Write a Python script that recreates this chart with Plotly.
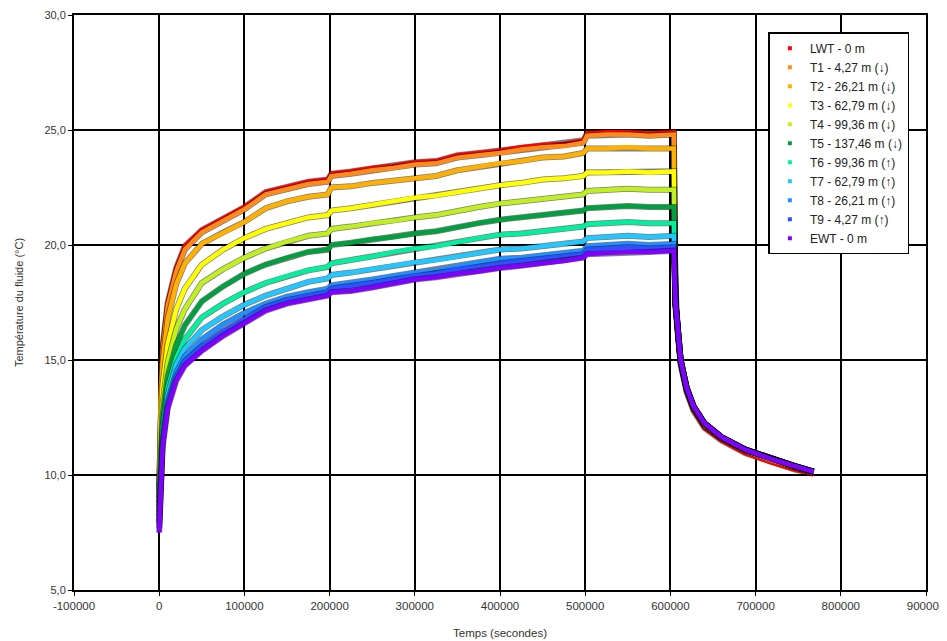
import plotly.graph_objects as go

# Time axis (seconds): heating phase then recovery phase
time_s = [0, 1500, 4000, 10000, 20000, 30000, 50000, 75000, 100000, 125000,
          150000, 175000, 198000, 202000, 225000, 250000, 275000, 300000, 325000, 350000,
          375000, 400000, 425000, 450000, 475000, 498000, 502000, 525000, 550000, 575000,
          604000,
          606000, 609000, 612000, 619000, 627000, 640000, 660000, 688000, 718000, 745000, 768000]

LWT = [9.5, 13.5, 15.6, 17.5, 19.0, 19.95, 20.65, 21.15, 21.65, 22.3,
       22.55, 22.75, 22.85, 23.1, 23.2, 23.35, 23.45, 23.6, 23.65, 23.9,
       24.0, 24.1, 24.25, 24.35, 24.4, 24.55, 24.85, 24.9, 24.9, 24.85,
       24.9,
       17.3, 15.8, 14.8, 13.6, 12.8, 12.05, 11.5, 10.95, 10.55, 10.25, 10.05]
T1 = [9.3, 13.2, 15.4, 17.35, 18.85, 19.8, 20.55, 21.05, 21.55, 22.2,
      22.45, 22.65, 22.75, 23.0, 23.1, 23.25, 23.35, 23.5, 23.55, 23.8,
      23.9, 24.0, 24.15, 24.25, 24.3, 24.45, 24.75, 24.8, 24.8, 24.75,
      24.8,
      17.4, 15.9, 14.9, 13.7, 12.9, 12.15, 11.6, 11.05, 10.65, 10.35, 10.1]
T2 = [9.0, 12.8, 14.9, 16.8, 18.3, 19.2, 20.05, 20.55, 21.0, 21.6,
      21.9, 22.1, 22.2, 22.5, 22.55, 22.7, 22.8, 22.9, 23.0, 23.25,
      23.4, 23.55, 23.65, 23.8, 23.85, 24.0, 24.2, 24.2, 24.25, 24.2,
      24.2,
      17.4, 15.9, 14.9, 13.7, 12.9, 12.15, 11.6, 11.05, 10.65, 10.35, 10.1]
T3 = [8.8, 12.0, 13.9, 15.7, 17.2, 18.1, 19.15, 19.8, 20.3, 20.7,
      20.95, 21.2, 21.3, 21.5, 21.6, 21.75, 21.9, 22.05, 22.15, 22.3,
      22.45, 22.6, 22.7, 22.85, 22.9, 23.0, 23.15, 23.15, 23.2, 23.15,
      23.2,
      17.45, 15.95, 14.95, 13.75, 12.95, 12.2, 11.6, 11.1, 10.7, 10.4, 10.15]
T4 = [8.6, 11.3, 13.1, 14.9, 16.35, 17.2, 18.35, 18.95, 19.45, 19.85,
      20.15, 20.4, 20.5, 20.7, 20.8, 20.95, 21.05, 21.2, 21.3, 21.5,
      21.65, 21.8, 21.9, 22.0, 22.1, 22.2, 22.35, 22.4, 22.45, 22.4,
      22.4,
      17.45, 15.95, 14.95, 13.75, 12.95, 12.2, 11.6, 11.1, 10.7, 10.4, 10.15]
T5 = [8.4, 10.8, 12.6, 14.3, 15.65, 16.5, 17.55, 18.2, 18.75, 19.15,
      19.45, 19.7, 19.8, 20.0, 20.1, 20.25, 20.35, 20.5, 20.6, 20.8,
      20.95, 21.1, 21.2, 21.3, 21.4, 21.5, 21.6, 21.65, 21.7, 21.65,
      21.65,
      17.5, 16.0, 15.0, 13.8, 13.0, 12.25, 11.65, 11.1, 10.7, 10.4, 10.15]
T6 = [8.2, 10.4, 12.1, 13.8, 15.1, 15.9, 16.85, 17.45, 17.95, 18.35,
      18.65, 18.9, 19.05, 19.2, 19.35, 19.5, 19.7, 19.85, 19.95, 20.15,
      20.3, 20.45, 20.5, 20.6, 20.7, 20.8, 20.9, 20.95, 21.0, 20.95,
      20.95,
      17.5, 16.0, 15.0, 13.8, 13.0, 12.25, 11.65, 11.1, 10.7, 10.4, 10.15]
T7 = [8.0, 10.1, 11.8, 13.5, 14.8, 15.5, 16.3, 16.9, 17.4, 17.8,
      18.1, 18.4, 18.55, 18.7, 18.8, 18.95, 19.1, 19.25, 19.35, 19.5,
      19.65, 19.8, 19.85, 19.95, 20.05, 20.15, 20.3, 20.35, 20.4, 20.35,
      20.4,
      17.5, 16.0, 15.0, 13.8, 13.0, 12.25, 11.65, 11.1, 10.7, 10.4, 10.15]
T8 = [7.9, 9.9, 11.5, 13.2, 14.45, 15.15, 15.9, 16.55, 17.05, 17.45,
      17.75, 17.95, 18.1, 18.25, 18.35, 18.5, 18.65, 18.8, 18.9, 19.1,
      19.25, 19.4, 19.45, 19.55, 19.65, 19.75, 19.95, 20.0, 20.05, 20.0,
      20.05,
      17.5, 16.0, 15.0, 13.8, 13.0, 12.25, 11.65, 11.1, 10.7, 10.4, 10.15]
T9 = [7.7, 9.7, 11.35, 13.05, 14.25, 14.95, 15.6, 16.25, 16.8, 17.3,
      17.6, 17.8, 17.95, 18.1, 18.2, 18.35, 18.5, 18.65, 18.75, 18.95,
      19.05, 19.2, 19.3, 19.4, 19.5, 19.6, 19.8, 19.85, 19.9, 19.85,
      19.9,
      17.5, 16.0, 15.0, 13.8, 13.0, 12.25, 11.65, 11.1, 10.7, 10.4, 10.15]
EWT = [7.5, 9.5, 11.2, 12.9, 14.1, 14.75, 15.4, 16.05, 16.6, 17.15,
       17.45, 17.65, 17.8, 17.95, 18.0, 18.15, 18.35, 18.5, 18.6, 18.75,
       18.85, 19.0, 19.1, 19.2, 19.3, 19.45, 19.6, 19.65, 19.7, 19.7,
       19.75,
       17.5, 16.0, 15.0, 13.8, 13.0, 12.25, 11.65, 11.1, 10.7, 10.4, 10.15]

series_names = ["LWT - 0 m", "T1 - 4,27 m (\u2193)", "T2 - 26,21 m (\u2193)",
                "T3 - 62,79 m (\u2193)", "T4 - 99,36 m (\u2193)", "T5 - 137,46 m (\u2193)",
                "T6 - 99,36 m (\u2191)", "T7 - 62,79 m (\u2191)", "T8 - 26,21 m (\u2191)",
                "T9 - 4,27 m (\u2191)", "EWT - 0 m"]
series_values = [LWT, T1, T2, T3, T4, T5, T6, T7, T8, T9, EWT]
series_colors = ["#FF0000", "#FF8C1A", "#FFB000", "#FFFF00", "#C0F020", "#00A040",
                 "#00F0A0", "#20C8FF", "#2090FF", "#3050FF", "#8000FF"]

y_tick_vals = [5, 10, 15, 20, 25, 30]
y_tick_text = ["5,0", "10,0", "15,0", "20,0", "25,0", "30,0"]
x_tick_vals = [-100000, 0, 100000, 200000, 300000, 400000, 500000, 600000, 700000, 800000, 900000]
x_tick_text = [str(v) for v in x_tick_vals]

FONT = "Liberation Sans, Arial, sans-serif"

fig = go.Figure()
for name, vals, col in zip(series_names, series_values, series_colors):
    fig.add_trace(go.Scatter(x=time_s, y=vals, mode="lines", name=name,
                             line=dict(color="rgba(0,0,0,0.5)", width=6), showlegend=False,
                             hoverinfo="skip"))
    fig.add_trace(go.Scatter(x=time_s, y=vals, mode="lines", name=name,
                             line=dict(color=col, width=4.5), showlegend=False,
                             hoverinfo="skip"))
for name, col in zip(series_names, series_colors):
    fig.add_trace(go.Scatter(x=[None], y=[None], mode="markers", name=name,
                             marker=dict(color=col, size=4, symbol="square"),
                             showlegend=True))

fig.update_layout(
    width=939, height=633,
    margin=dict(l=66, r=21, t=7, b=51, autoexpand=False),
    paper_bgcolor="white", plot_bgcolor="white",
    font=dict(family=FONT, size=11, color="#222"),
    showlegend=True,
    legend=dict(x=0.815, y=0.970, xanchor="left", yanchor="top",
                bgcolor="white", bordercolor="black", borderwidth=1.5,
                font=dict(family=FONT, size=12, color="#222"),
                itemwidth=30, tracegroupgap=0),
)
fig.update_xaxes(range=[-100000, 900000], tickvals=x_tick_vals, ticktext=x_tick_text,
                 automargin=False,
                 showgrid=True, gridcolor="black", gridwidth=1.6, zeroline=False,
                 showline=True, linecolor="black", linewidth=2, mirror=True,
                 ticks="outside", ticklen=4, tickcolor="black",
                 tickfont=dict(family=FONT, size=11.5, color="#333"),
                 title=dict(text="Temps (secondes)", standoff=18,
                            font=dict(family=FONT, size=11.5, color="#333")))
fig.update_yaxes(range=[5, 30], tickvals=y_tick_vals, ticktext=y_tick_text,
                 automargin=False,
                 showgrid=True, gridcolor="black", gridwidth=1.6, zeroline=False,
                 showline=True, linecolor="black", linewidth=2, mirror=True,
                 ticks="outside", ticklen=4, tickcolor="black",
                 tickfont=dict(family=FONT, size=11, color="#333"),
                 title=dict(text="Température du fluide (°C)", standoff=19,
                            font=dict(family=FONT, size=11, color="#333")))

fig.write_html("out.html")
